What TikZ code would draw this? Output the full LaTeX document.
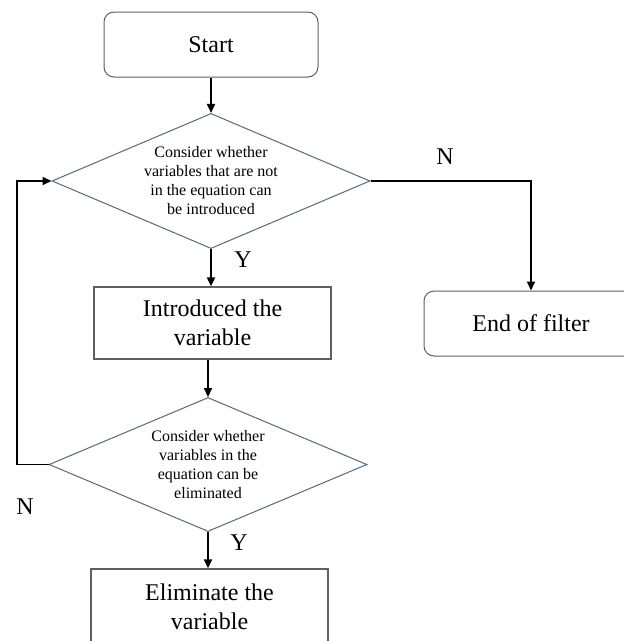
\documentclass[tikz,border=0pt]{standalone}
\usepackage{fontspec}
\setmainfont{Liberation Serif}
\usetikzlibrary{shapes.geometric,arrows.meta}
\definecolor{boxedge}{RGB}{95,95,95}
\definecolor{diaedge}{RGB}{84,106,124}
\tikzset{
  big/.style={font=\fontsize{24}{29}\selectfont, align=center},
  small/.style={font=\fontsize{16}{19}\selectfont, align=center},
  roundbox/.style={draw=boxedge, line width=1pt, rounded corners=10pt, minimum width=214pt, minimum height=65pt, big},
  procbox/.style={draw=boxedge, line width=1.2pt, minimum width=237pt, minimum height=72pt, big},
  decision/.style={draw=diaedge, line width=1pt, diamond, shape aspect=2, inner sep=0pt, minimum width=318pt, minimum height=134pt, small},
  conn/.style={line width=1.8pt, -{Triangle[length=9pt,width=8pt]}},
  lbl/.style={font=\fontsize{24}{29}\selectfont},
}
\begin{document}
\begin{tikzpicture}[x=1pt,y=-1pt]
\useasboundingbox (0,0) rectangle (624,641);
\clip (0,0) rectangle (624,641);
\node[roundbox] (start) at (211,44.5) {Start};
\node[decision] (d1) at (211,181) {Consider whether\\variables that are not\\in the equation can\\be introduced};
\node[procbox] (intro) at (212.5,323) {Introduced the\\variable};
\node[roundbox] (endf) at (531,323.5) {End of filter};
\node[decision] (d2) at (208,464.5) {Consider whether\\variables in the\\equation can be\\eliminated};
\node[procbox, minimum height=75pt] (elim) at (209.5,606.5) {Eliminate the\\variable};
\draw[conn] (start.south -| d1.north) -- (d1.north);
\draw[conn] (d1.south) -- (d1.south |- intro.north);
\draw[conn] (d2.north |- intro.south) -- (d2.north);
\draw[conn] (d2.south) -- (d2.south |- elim.north);
\draw[conn] (d1.east) -| (endf.north);
\coordinate (loopx) at (17,0);
\draw[conn] (d2.west) -- (d2.west -| loopx) |- (d1.west);
\node[lbl] (n1) at (445,157) {N};
\node[lbl] (y1) at (243,260) {Y};
\node[lbl] (n2) at (25,507) {N};
\node[lbl] (y2) at (239,543) {Y};
\end{tikzpicture}
\end{document}
